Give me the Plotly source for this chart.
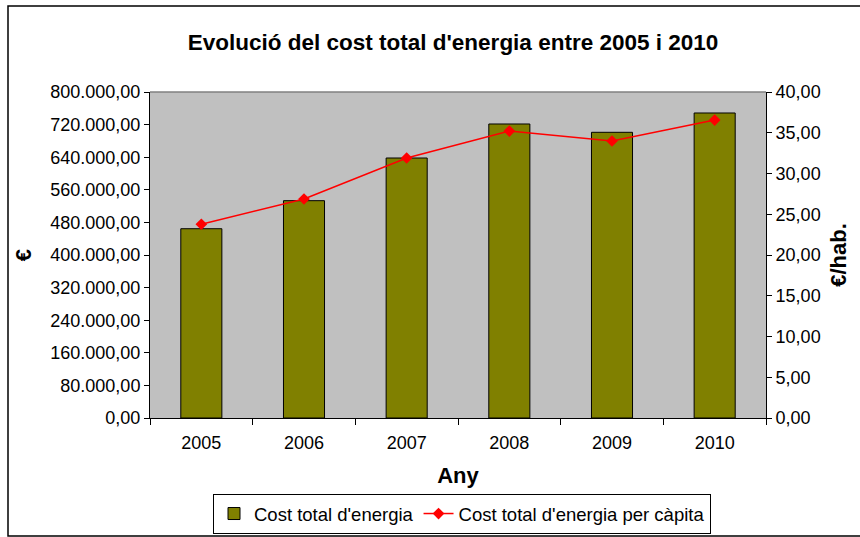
import plotly.graph_objects as go

# Dades llegides del gràfic
anys = ["2005", "2006", "2007", "2008", "2009", "2010"]
cost_total = [464500, 533300, 638000, 721500, 701100, 748500]
cost_per_capita = [23.77, 26.87, 31.90, 35.21, 33.99, 36.56]

ticks_esq = [0, 80000, 160000, 240000, 320000, 400000, 480000, 560000, 640000, 720000, 800000]
ticks_dre = [0, 5, 10, 15, 20, 25, 30, 35, 40]

fig = go.Figure()

fig.add_trace(go.Bar(
    x=anys, y=cost_total,
    name="Cost total d'energia",
    marker=dict(color="#808000", line=dict(color="black", width=1)),
    width=0.4,
    yaxis="y",
))

fig.add_trace(go.Scatter(
    x=anys, y=cost_per_capita,
    name="Cost total d'energia per càpita",
    mode="lines+markers",
    line=dict(color="#FF0000", width=1.5),
    marker=dict(symbol="diamond", size=9, color="#FF0000"),
    yaxis="y2",
))

font_base = dict(family="Arial, Liberation Sans, sans-serif", size=18, color="black")

W, H = 860, 537
L, T, R, B = 150, 92, 94, 119
alt = H - T - B
ample = W - L - R

fig.update_layout(
    width=W, height=H,
    margin=dict(l=L, r=R, t=T, b=B, autoexpand=False),
    paper_bgcolor="white",
    plot_bgcolor="#C0C0C0",
    font=font_base,
    separators=",.",
    title=dict(
        text="<b>Evolució del cost total d'energia entre 2005 i 2010</b>",
        x=453 / W, xanchor="center", y=1 - 42 / H, yanchor="middle",
        font=dict(size=22.5, family="Arial, Liberation Sans, sans-serif", color="black"),
    ),
    xaxis=dict(
        title=dict(text="<b>Any</b>", standoff=16),
        showgrid=False, showline=True, linecolor="black", linewidth=1,
        ticks="outside", tickson="boundaries", ticklen=6, tickcolor="black",
        ticklabelstandoff=8, automargin=False,
    ),
    yaxis=dict(
        title=dict(text="<b>€</b>", standoff=12),
        range=[0, 800000], tickvals=ticks_esq, tickformat=",.2f",
        showgrid=False, showline=True, linecolor="black", linewidth=1,
        ticks="outside", ticklen=5, tickcolor="black", zeroline=False,
        automargin=False,
    ),
    yaxis2=dict(
        title=dict(text="<b>€/hab.</b>", standoff=10),
        overlaying="y", side="right",
        range=[0, 40], tickvals=ticks_dre, tickformat=".2f",
        showgrid=False, showline=True, linecolor="black", linewidth=1,
        ticks="outside", ticklen=5, tickcolor="black", zeroline=False,
        automargin=False,
    ),
    legend=dict(
        orientation="h", xref="container", yref="container",
        x=462 / W, xanchor="center", y=1 - 514 / H, yanchor="middle",
        bordercolor="black", borderwidth=1, bgcolor="white",
        font=dict(size=18.5), itemwidth=30, tracegroupgap=0,
    ),
    bargap=0.6,
    shapes=[
        # línia superior de l'àrea del gràfic
        dict(type="line", xref="paper", yref="paper", x0=0, x1=1, y0=1, y1=1,
             line=dict(color="#808080", width=1.5)),
        # vora exterior
        dict(type="rect", xref="paper", yref="paper",
             x0=(8 - L) / ample, x1=(W + 20 - L) / ample,
             y0=(H - B - 536) / alt, y1=(H - B - 6) / alt,
             line=dict(color="black", width=1.5), layer="below"),
    ],
)

# sense el marge per defecte del body, la figura omple la finestra
fig.write_html("out.html", config={"displayModeBar": False},
               post_script="document.body.style.margin='0';")
